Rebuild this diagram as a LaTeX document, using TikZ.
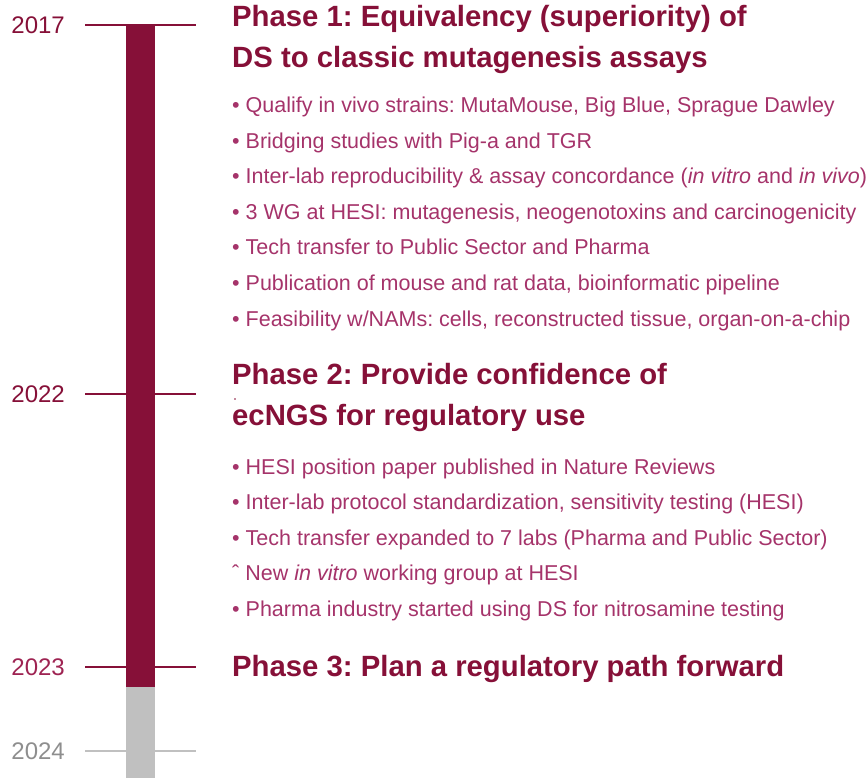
\documentclass[tikz,border=0pt]{standalone}
\usepackage{fontspec}
\setmainfont{Liberation Sans}
\frenchspacing
\definecolor{maroon}{HTML}{861038}
\definecolor{maroonlight}{HTML}{9E2352}
\definecolor{bullettext}{HTML}{A5336A}
\definecolor{bargray}{HTML}{C0C0C0}
\definecolor{yeargray}{HTML}{8E8E8E}
\tikzset{
  year/.style={anchor=east, inner sep=0pt, font=\fontsize{24}{28}\selectfont},
  tick/.style={line width=2pt, maroon},
  tickgray/.style={line width=2pt, bargray},
  phase/.style={anchor=base west, inner sep=0pt, text=maroon, font=\fontsize{29.3}{34}\selectfont\bfseries},
  item/.style={anchor=base west, inner sep=0pt, text=bullettext, font=\fontsize{21.5}{25}\selectfont},
}
\begin{document}
\begin{tikzpicture}[x=1pt,y=-1pt]
\useasboundingbox (0,0) rectangle (867,778);

% timeline bar: completed span and upcoming span
\fill[maroon] (126,25) rectangle (155,687);
\fill[bargray] (126,687) rectangle (155,778);

% year ticks
\coordinate (a2017) at (85,25);  \coordinate (b2017) at (196,25);
\coordinate (a2022) at (85,394); \coordinate (b2022) at (196,394);
\coordinate (a2023) at (85,667); \coordinate (b2023) at (196,667);
\coordinate (a2024) at (85,751); \coordinate (b2024) at (196,751);
\draw[tick] (a2017) -- (b2017);
\draw[tick] (a2022) -- (b2022);
\draw[tick] (a2023) -- (b2023);
\draw[tickgray] (a2024) -- (b2024);

% year labels
\node[year, text=maroon] (y2017) at (65,25) {2017};
\node[year, text=maroon] (y2022) at (65,394) {2022};
\node[year, text=maroonlight] (y2023) at (65,667) {2023};
\node[year, text=yeargray] (y2024) at (65,751) {2024};

% Phase 1
\node[phase] (p1a) at (232,27) {Phase 1: Equivalency (superiority) of};
\node[phase] (p1b) at (232,68) {DS to classic mutagenesis assays};
\node[item] (i11) at (232,112.5) {• Qualify in vivo strains: MutaMouse, Big Blue, Sprague Dawley};
\node[item] (i12) at (232,148.1) {• Bridging studies with Pig-a and TGR};
\node[item] (i13) at (232,183.7) {• Inter-lab reproducibility \& assay concordance (\textit{in vitro} and \textit{in vivo})};
\node[item] (i14) at (232,219.3) {• 3 WG at HESI: mutagenesis, neogenotoxins and carcinogenicity};
\node[item] (i15) at (232,254.9) {• Tech transfer to Public Sector and Pharma};
\node[item] (i16) at (232,290.5) {• Publication of mouse and rat data, bioinformatic pipeline};
\node[item] (i17) at (232,326.1) {• Feasibility w/NAMs: cells, reconstructed tissue, organ-on-a-chip};

% Phase 2
\node[phase] (p2a) at (232,384) {Phase 2: Provide confidence of};
\fill[maroon] (235,399) circle (0.8);
\node[phase] (p2b) at (232,425) {ecNGS for regulatory use};
\node[item] (i21) at (232,474) {• HESI position paper published in Nature Reviews};
\node[item] (i22) at (232,509.6) {• Inter-lab protocol standardization, sensitivity testing (HESI)};
\node[item] (i23) at (232,545.2) {• Tech transfer expanded to 7 labs (Pharma and Public Sector)};
\node[item] (i24) at (232,580.8) {ˆ New \textit{in vitro} working group at HESI};
\node[item] (i25) at (232,616.4) {• Pharma industry started using DS for nitrosamine testing};

% Phase 3
\node[phase] (p3) at (232,676) {Phase 3: Plan a regulatory path forward};
\end{tikzpicture}
\end{document}
